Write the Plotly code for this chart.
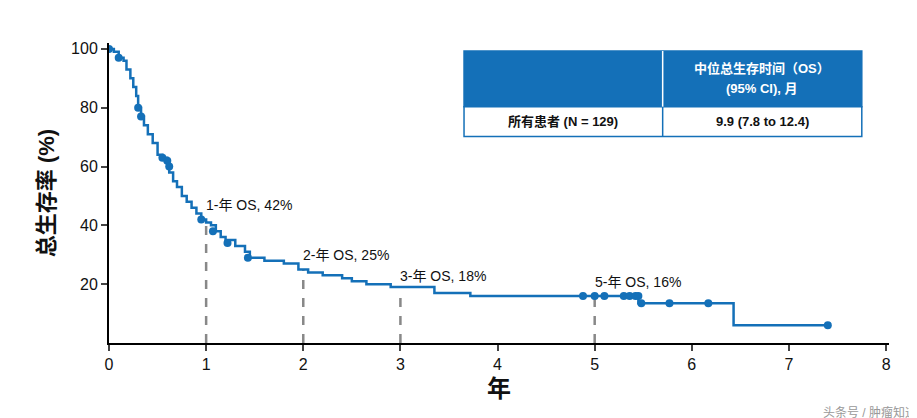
import plotly.graph_objects as go

# KM step curve (years, % survival)
t = [0, 0.05, 0.1, 0.15, 0.18, 0.22, 0.25, 0.28, 0.3, 0.33, 0.36, 0.4, 0.45, 0.5, 0.55,
     0.6, 0.62, 0.66, 0.7, 0.75, 0.8, 0.85, 0.9, 0.95, 1.0, 1.05, 1.1, 1.15, 1.2, 1.3,
     1.4, 1.45, 1.6, 1.8, 1.95, 2.05, 2.2, 2.4, 2.5, 2.65, 2.9, 3.35, 3.72, 5.45, 6.43, 7.4]
s = [100, 99, 97, 96, 93, 90, 87, 84, 80, 77, 74, 71, 68, 64, 63,
     61, 58, 55, 53, 50, 48, 46, 44, 42, 41, 40, 38, 36, 35, 33,
     31, 29, 28, 27, 25, 24, 23, 22, 21, 20, 19, 17, 16, 13.5, 6, 6]
cens_t = [0.0, 0.1, 0.3, 0.33, 0.55, 0.6, 0.62, 0.95, 1.07, 1.22, 1.43,
          4.88, 5.0, 5.1, 5.3, 5.36, 5.42, 5.45, 5.48, 5.77, 6.17, 7.4]
cens_s = [100, 97, 80, 77, 63, 62, 60, 42, 38, 34, 29,
          16, 16, 16, 16, 16, 16, 16, 13.5, 13.5, 13.5, 6]
landmark_t = [1, 2, 3, 5]
landmark_s = [42, 25, 18, 16]
landmark_lbl = ["1-年 OS, 42%", "2-年 OS, 25%", "3-年 OS, 18%", "5-年 OS, 16%"]

blue = "#1470b8"
fig = go.Figure()
for lt, ls in zip(landmark_t, landmark_s):
    fig.add_trace(go.Scatter(x=[lt, lt], y=[0, ls], mode="lines",
                             line=dict(color="#888888", width=2.5, dash="dash"), showlegend=False))
fig.add_trace(go.Scatter(x=t, y=s, mode="lines", line=dict(color=blue, width=2.5, shape="hv"),
                         showlegend=False))
fig.add_trace(go.Scatter(x=cens_t, y=cens_s, mode="markers", marker=dict(color=blue, size=8),
                         showlegend=False))

for lt, ls, lb in zip(landmark_t, landmark_s, landmark_lbl):
    fig.add_annotation(x=lt, y=ls + 1.5, text=lb, showarrow=False, xanchor="left", yanchor="bottom",
                       xshift=-2, font=dict(size=14, color="#111"))

# table
x0, x1, xm = 3.655, 7.75, 5.70
y0, ym, y1 = 70.2, 80.3, 99.3
fig.add_shape(type="rect", x0=x0, x1=x1, y0=ym, y1=y1, fillcolor=blue, line=dict(color=blue, width=1.5))
fig.add_shape(type="rect", x0=x0, x1=x1, y0=y0, y1=ym, fillcolor="white", line=dict(color=blue, width=1.5))
fig.add_shape(type="line", x0=xm, x1=xm, y0=ym, y1=y1, line=dict(color="white", width=1.5))
fig.add_shape(type="line", x0=xm, x1=xm, y0=y0, y1=ym, line=dict(color=blue, width=1.5))
fig.add_annotation(x=(xm + x1) / 2, y=(ym + y1) / 2 + 3.4, text="<b>中位总生存时间（OS）</b>",
                   showarrow=False, font=dict(size=13, color="white"))
fig.add_annotation(x=(xm + x1) / 2, y=(ym + y1) / 2 - 3.4, text="<b>(95% CI), 月</b>",
                   showarrow=False, font=dict(size=13, color="white"))
fig.add_annotation(x=(x0 + xm) / 2, y=(y0 + ym) / 2, text="<b>所有患者 (N = 129)</b>",
                   showarrow=False, font=dict(size=13, color="#111"))
fig.add_annotation(x=(xm + x1) / 2, y=(y0 + ym) / 2, text="<b>9.9 (7.8 to 12.4)</b>",
                   showarrow=False, font=dict(size=13, color="#111"))

fig.add_annotation(xref="paper", yref="paper", x=1.0, y=-0.2, xanchor="right", yanchor="top",
                   xshift=30, text="头条号 / 肿瘤知道", showarrow=False, font=dict(size=12, color="#999"))

fig.update_layout(width=917, height=418, margin=dict(l=101, r=36, t=35, b=83),
                  plot_bgcolor="white", paper_bgcolor="white",
                  font=dict(family="Liberation Sans, Noto Sans CJK SC, sans-serif", color="#111"))
fig.update_xaxes(range=[0, 8.03], tickvals=list(range(9)), showline=True, linecolor="black", linewidth=2,
                 ticks="outside", ticklen=6, tickwidth=2, showgrid=False, zeroline=False,
                 tickfont=dict(size=16), automargin=False,
                 title=dict(text="<b>年</b>", font=dict(size=24), standoff=8))
fig.update_yaxes(range=[0, 102], tickvals=[20, 40, 60, 80, 100], showline=True, linecolor="black",
                 linewidth=2, ticks="outside", ticklen=6, tickwidth=2, showgrid=False, zeroline=False,
                 tickfont=dict(size=16), automargin=False,
                 title=dict(text="<b>总生存率 (%)</b>", font=dict(size=22), standoff=10))
fig.write_html("out.html")
